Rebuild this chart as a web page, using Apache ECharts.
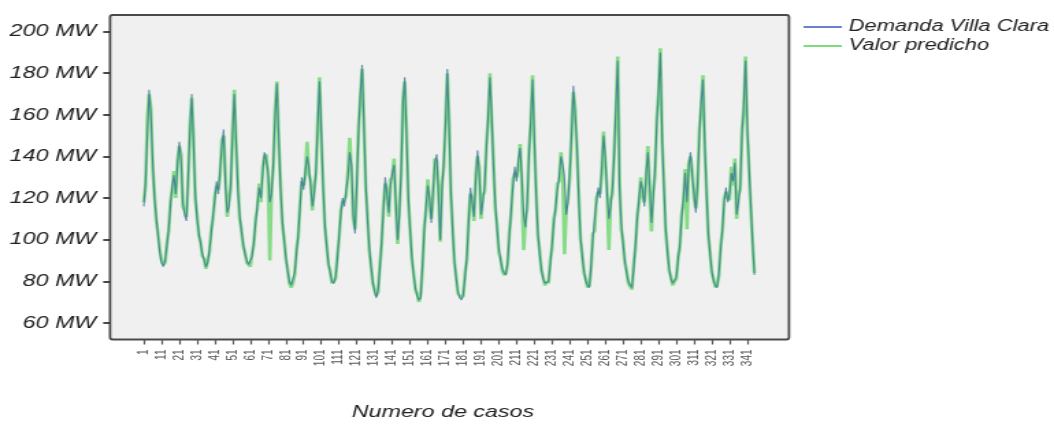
<!DOCTYPE html>
<html>
<head>
<meta charset="utf-8">
<script src="https://cdn.jsdelivr.net/npm/echarts@6.0.0/dist/echarts.min.js"></script>
<style>
  html, body { margin: 0; padding: 0; background: #fff; width: 1054px; height: 428px; overflow: hidden; }
  /* the chart is laid out on a narrower canvas and widened horizontally */
  #chart { width: 770px; height: 428px; transform: scaleX(1.368831); transform-origin: 0 0; }
</style>
</head>
<body>
<div id="chart"></div>
<script>
// Hourly demand, Villa Clara (MW), one row per day (first and last rows partial)
const demanda = [
  116, 128, 150, 172, 160, 138, 120, 111, 102, 94, 89,
  87, 90, 97, 105, 116, 126, 131, 122, 136, 147, 138, 118, 112, 109, 131, 152, 170, 146, 122, 110, 103, 98, 93, 90,
  87, 89, 95, 103, 112, 119, 128, 122, 134, 145, 153, 126, 113, 116, 128, 150, 170, 148, 124, 112, 104, 98, 93, 90,
  88, 88, 92, 99, 108, 117, 125, 120, 132, 142, 138, 133, 118, 122, 138, 160, 175, 150, 125, 110, 100, 92, 85, 80,
  78, 78, 84, 93, 103, 115, 130, 124, 133, 140, 135, 126, 116, 122, 134, 155, 176, 152, 125, 108, 97, 89, 84, 80,
  79, 82, 90, 102, 112, 120, 116, 124, 130, 142, 136, 112, 103, 128, 152, 170, 184, 155, 128, 110, 97, 87, 80, 75,
  72, 76, 86, 100, 114, 130, 122, 113, 126, 132, 136, 118, 100, 112, 134, 165, 178, 150, 122, 104, 92, 83, 77, 73,
  71, 72, 88, 104, 116, 126, 120, 108, 124, 137, 141, 122, 100, 124, 138, 155, 182, 154, 124, 104, 90, 81, 75, 72,
  71, 74, 82, 92, 108, 125, 118, 111, 128, 143, 132, 112, 118, 126, 143, 160, 178, 160, 135, 118, 105, 96, 90, 86,
  84, 83, 90, 102, 115, 126, 135, 128, 138, 144, 130, 112, 106, 118, 140, 158, 177, 150, 122, 104, 93, 86, 81, 79,
  79, 80, 88, 98, 108, 116, 124, 130, 140, 136, 130, 112, 118, 133, 150, 174, 160, 146, 120, 102, 92, 85, 80, 78,
  77, 88, 101, 110, 118, 125, 120, 135, 150, 140, 122, 110, 116, 125, 140, 165, 186, 125, 108, 98, 90, 84, 80, 78,
  77, 86, 98, 110, 120, 128, 124, 116, 132, 142, 126, 108, 120, 134, 155, 172, 190, 150, 125, 106, 94, 86, 81, 79,
  79, 82, 90, 98, 110, 120, 132, 118, 135, 142, 130, 122, 113, 128, 150, 166, 177, 148, 122, 104, 93, 85, 80, 78,
  77, 84, 95, 106, 118, 125, 118, 122, 132, 128, 137, 112, 118, 126, 150, 165, 186, 155, 135, 117, 98, 83
];

// Model output (MW), same hours
const predicho = [
  118, 126, 158, 170, 163, 135, 122, 109, 103, 95, 90,
  88, 89, 98, 104, 118, 124, 133, 120, 138, 145, 141, 116, 114, 111, 128, 155, 168, 150, 120, 112, 102, 99, 92, 91,
  86, 90, 94, 105, 110, 121, 126, 124, 131, 148, 150, 130, 111, 119, 125, 153, 172, 145, 127, 110, 105, 97, 94, 89,
  89, 87, 93, 98, 110, 115, 127, 118, 135, 140, 141, 130, 90, 125, 135, 163, 176, 147, 128, 108, 101, 91, 86, 79,
  77, 79, 83, 95, 101, 117, 128, 126, 131, 147, 132, 128, 114, 125, 131, 158, 178, 149, 128, 106, 98, 88, 85, 79,
  80, 81, 92, 100, 114, 118, 119, 121, 133, 149, 133, 110, 105, 125, 155, 168, 182, 158, 125, 112, 95, 88, 79, 76,
  73, 75, 88, 98, 116, 127, 124, 111, 129, 130, 139, 115, 98, 115, 131, 168, 176, 153, 119, 106, 91, 84, 76, 74,
  70, 74, 86, 106, 114, 129, 118, 110, 121, 139, 138, 125, 99, 127, 135, 158, 180, 157, 121, 106, 89, 82, 74, 73,
  72, 73, 84, 90, 110, 122, 120, 109, 131, 140, 135, 110, 121, 123, 146, 157, 180, 157, 138, 115, 107, 94, 91, 85,
  83, 84, 88, 104, 113, 129, 132, 130, 135, 146, 127, 95, 109, 115, 143, 155, 179, 147, 125, 102, 95, 85, 82, 78,
  80, 79, 90, 96, 110, 114, 127, 128, 142, 133, 93, 115, 120, 130, 153, 171, 163, 143, 123, 100, 93, 84, 81, 77,
  78, 86, 103, 104, 120, 123, 122, 132, 152, 137, 124, 95, 119, 122, 143, 162, 188, 128, 105, 99, 89, 85, 79, 79,
  76, 88, 96, 112, 118, 130, 121, 118, 129, 145, 123, 104, 123, 131, 158, 170, 192, 147, 128, 104, 95, 85, 82, 78,
  80, 81, 92, 96, 112, 118, 134, 105, 137, 140, 133, 120, 115, 125, 153, 164, 179, 145, 125, 102, 94, 84, 81, 77,
  78, 83, 97, 104, 120, 123, 120, 119, 135, 126, 139, 110, 121, 124, 153, 162, 188, 152, 133, 114, 99, 84
];

// Case numbers that carry a tick and label on the horizontal axis
const caseTicks = [1, 11, 21, 31, 41, 51, 61, 71, 81, 91, 101, 111, 121, 131, 141, 151, 161, 171,
  181, 191, 201, 211, 221, 231, 241, 251, 261, 271, 281, 291, 301, 311, 321, 331, 341];

// Vertical axis range and step (MW)
const mwMin = 60, mwMax = 200, mwStep = 20;

const seriesNames = ['Demanda Villa Clara', 'Valor predicho'];

const FONT = "'Liberation Sans', Arial, sans-serif";
const FRAME = '#4a4a4a';

// Plot frame (canvas px); the MW scale spans 60..200 inside it with a margin above and below
const frame = { x: 80.4, y: 15, w: 496, h: 324.5 };
const pad = 16.6;

const chart = echarts.init(document.getElementById('chart'), null, { renderer: 'canvas', width: 770, height: 428 });

chart.setOption({
  animation: false,
  backgroundColor: '#ffffff',
  grid: {
    left: frame.x, top: frame.y + pad, width: frame.w, height: frame.h - 2 * pad,
    show: false
  },
  legend: {
    orient: 'vertical', left: 587, top: 19, padding: 0,
    icon: 'rect', itemWidth: 28, itemHeight: 2, itemGap: 3,
    textStyle: { fontFamily: FONT, fontStyle: 'italic', fontSize: 16, color: '#222' },
    data: seriesNames
  },
  xAxis: {
    type: 'value', min: -18, max: 364.5, offset: pad,
    axisLine: { show: false, onZero: false },
    splitLine: { show: false },
    axisTick: { show: true, customValues: caseTicks, length: 5, lineStyle: { color: '#555', width: 1.2 } },
    axisLabel: { customValues: caseTicks, rotate: 90, fontSize: 10, color: '#555', margin: 10, fontFamily: FONT }
  },
  yAxis: {
    type: 'value', min: mwMin, max: mwMax, interval: mwStep,
    axisLine: { show: false, onZero: false },
    splitLine: { show: false },
    axisTick: { show: true, length: 5, lineStyle: { color: '#333', width: 1.8 } },
    axisLabel: {
      margin: 10,
      formatter: v => v + ' MW',
      fontFamily: FONT, fontStyle: 'italic', fontSize: 17, color: '#222'
    }
  },
  graphic: [
    {
      type: 'rect', z: -10, silent: true,
      shape: { x: frame.x, y: frame.y, width: frame.w, height: frame.h, r: 2 },
      style: { fill: '#f0f0f0', stroke: FRAME, lineWidth: 1.8 }
    },
    {
      type: 'text', x: 323.6, y: 412,
      style: {
        text: 'Numero de casos', fill: '#222',
        font: "italic 17px 'Liberation Sans', Arial, sans-serif",
        align: 'center', verticalAlign: 'middle'
      }
    }
  ],
  series: [
    {
      name: seriesNames[0], type: 'line', symbol: 'none', z: 3,
      data: demanda.map((v, i) => [i + 1, v]),
      lineStyle: { width: 1.1, color: '#336b98', opacity: 0.75 },
      itemStyle: { color: '#6a80cc' }
    },
    {
      name: seriesNames[1], type: 'line', symbol: 'none', z: 2,
      data: predicho.map((v, i) => [i + 1, v]),
      lineStyle: { width: 2.6, color: '#86dc86' },
      itemStyle: { color: '#7ddc7d' }
    }
  ]
});
</script>
</body>
</html>
